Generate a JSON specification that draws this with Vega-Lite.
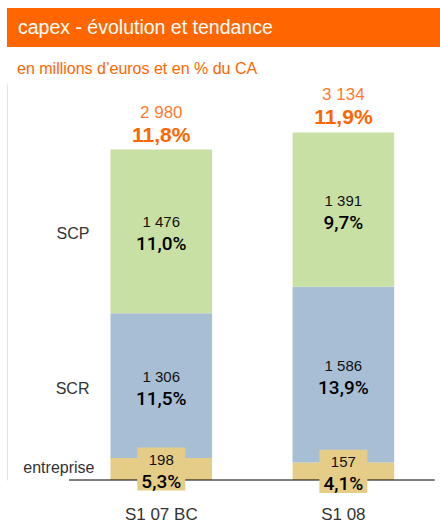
{
  "$schema": "https://vega.github.io/schema/vega-lite/v6.json",
  "padding": {"left": 7, "top": 8, "right": 0, "bottom": 0},
  "background": "white",
  "spacing": 37,
  "bounds": "flush",
  "config": {"font": "Liberation Sans", "view": {"stroke": null}},
  "datasets": {
    "segs": [
      {"periode": "S1 07 BC", "segment": "entreprise", "valeur": 198, "libelle": "198", "pct": "5,3%", "ordre": 1},
      {"periode": "S1 07 BC", "segment": "SCR", "valeur": 1306, "libelle": "1 306", "pct": "11,5%", "ordre": 2},
      {"periode": "S1 07 BC", "segment": "SCP", "valeur": 1476, "libelle": "1 476", "pct": "11,0%", "ordre": 3},
      {"periode": "S1 08", "segment": "entreprise", "valeur": 157, "libelle": "157", "pct": "4,1%", "ordre": 1},
      {"periode": "S1 08", "segment": "SCR", "valeur": 1586, "libelle": "1 586", "pct": "13,9%", "ordre": 2},
      {"periode": "S1 08", "segment": "SCP", "valeur": 1391, "libelle": "1 391", "pct": "9,7%", "ordre": 3}
    ],
    "totaux": [
      {"periode": "S1 07 BC", "total": 2980, "libelle": "2 980", "pct": "11,8%"},
      {"periode": "S1 08", "total": 3134, "libelle": "3 134", "pct": "11,9%"}
    ],
    "base": [{"debut": "S1 07 BC", "fin": "S1 08"}],
    "titre": [{"texte": "capex - évolution et tendance"}]
  },
  "vconcat": [
    {
      "width": 433,
      "height": 39,
      "view": {"fill": "#ff6600", "stroke": null},
      "title": {"text": "en millions d’euros et en % du CA", "orient": "bottom", "anchor": "start", "dx": 10, "offset": 14, "fontSize": 16, "fontWeight": "normal", "color": "#ff6600", "font": "Liberation Sans", "baseline": "top"},
      "data": {"name": "titre"},
      "mark": {"type": "text", "align": "left", "baseline": "middle", "dx": 11, "color": "white", "fontSize": 19.5, "font": "Liberation Sans"},
      "encoding": {
        "text": {"field": "texte"},
        "x": {"datum": 0, "type": "quantitative", "scale": {"domain": [0, 1]}, "axis": null}
      }
    },
    {
      "width": 433,
      "height": 396,
      "encoding": {
        "x": {"field": "periode", "type": "nominal", "sort": null,
              "scale": {"domain": ["S1 07 BC", "S1 08"], "paddingInner": 0.442, "paddingOuter": 0.41, "align": 0.693},
              "axis": {"title": null, "labelAngle": 0, "ticks": false, "domain": false, "labelPadding": 26, "labelFontSize": 17, "labelColor": "#333333", "labelFont": "Liberation Sans", "labelBaseline": "top"}}
      },
      "layer": [
        {
          "data": {"name": "segs"},
          "mark": {"type": "bar"},
          "encoding": {
            "y": {"field": "valeur", "type": "quantitative", "stack": "zero", "scale": {"domain": [0, 3571], "nice": false, "zero": true},
                  "axis": {"title": null, "labels": false, "ticks": false, "grid": false, "domain": true, "domainColor": "#e2e2e2"}},
            "color": {"field": "segment", "type": "nominal", "scale": {"domain": ["entreprise", "SCR", "SCP"], "range": ["#e6cd87", "#a8bed4", "#c9e0a5"]}, "legend": null},
            "order": {"field": "ordre", "type": "quantitative"}
          }
        },
        {
          "data": {"name": "base"},
          "mark": {"type": "rule", "color": "#000000", "strokeWidth": 1},
          "encoding": {
            "x": {"field": "debut", "type": "nominal", "bandPosition": -0.408},
            "x2": {"field": "fin", "bandPosition": 1.4},
            "y": {"datum": 0, "type": "quantitative"}
          }
        },
        {
          "data": {"name": "segs"},
          "transform": [{"filter": "datum.segment === 'entreprise'"}],
          "mark": {"type": "point", "filled": true, "opacity": 1, "shape": "M-1,-0.9H1V0.9H-1Z", "size": 2304, "color": "#e6cd87", "strokeWidth": 0},
          "encoding": {
            "y": {"field": "valeur", "type": "quantitative", "stack": "zero", "bandPosition": 0.5},
            "detail": {"field": "segment"},
            "order": {"field": "ordre", "type": "quantitative"}
          }
        },
        {
          "data": {"name": "segs"},
          "mark": {"type": "text", "baseline": "middle", "dy": -9, "fontSize": 15, "color": "#111111"},
          "encoding": {
            "y": {"field": "valeur", "type": "quantitative", "stack": "zero", "bandPosition": 0.5},
            "detail": {"field": "segment"},
            "order": {"field": "ordre", "type": "quantitative"},
            "text": {"field": "libelle"}
          }
        },
        {
          "data": {"name": "segs"},
          "mark": {"type": "text", "baseline": "middle", "dy": 13, "fontSize": 19, "fontWeight": 500, "font": "Roboto", "color": "#000000"},
          "encoding": {
            "y": {"field": "valeur", "type": "quantitative", "stack": "zero", "bandPosition": 0.5},
            "detail": {"field": "segment"},
            "order": {"field": "ordre", "type": "quantitative"},
            "text": {"field": "pct"}
          }
        },
        {
          "data": {"name": "segs"},
          "mark": {"type": "text", "align": "right", "baseline": "middle", "dx": -21, "dy": 3, "fontSize": 16, "color": "#333333"},
          "encoding": {
            "x": {"field": "periode", "type": "nominal", "bandPosition": 0},
            "y": {"field": "valeur", "type": "quantitative", "stack": "zero", "bandPosition": 0.5},
            "detail": {"field": "segment"},
            "order": {"field": "ordre", "type": "quantitative"},
            "text": {"condition": {"test": "datum.periode === 'S1 07 BC' && datum.segment !== 'entreprise'", "field": "segment"}, "value": ""}
          }
        },
        {
          "data": {"name": "segs"},
          "mark": {"type": "text", "align": "right", "baseline": "middle", "dx": -16, "dy": -1, "fontSize": 16, "color": "#333333"},
          "encoding": {
            "x": {"field": "periode", "type": "nominal", "bandPosition": 0},
            "y": {"field": "valeur", "type": "quantitative", "stack": "zero", "bandPosition": 0.5},
            "detail": {"field": "segment"},
            "order": {"field": "ordre", "type": "quantitative"},
            "text": {"condition": {"test": "datum.periode === 'S1 07 BC' && datum.segment === 'entreprise'", "field": "segment"}, "value": ""}
          }
        },
        {
          "data": {"name": "totaux"},
          "mark": {"type": "text", "baseline": "middle", "dy": -37, "fontSize": 17, "color": "#ff7a30"},
          "encoding": {
            "y": {"field": "total", "type": "quantitative", "stack": null},
            "text": {"field": "libelle"}
          }
        },
        {
          "data": {"name": "totaux"},
          "mark": {"type": "text", "baseline": "middle", "dy": -14, "fontSize": 21, "fontWeight": "bold", "color": "#ff6600"},
          "encoding": {
            "y": {"field": "total", "type": "quantitative", "stack": null},
            "text": {"field": "pct"}
          }
        }
      ]
    }
  ]
}
